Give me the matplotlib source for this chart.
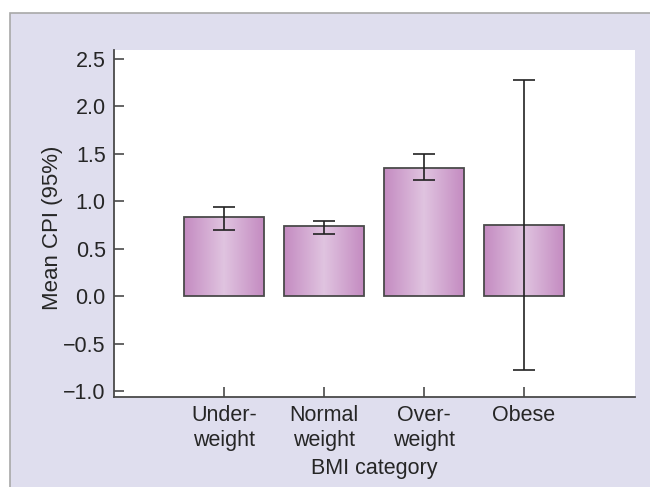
import numpy as np
import matplotlib
matplotlib.use("Agg")
import matplotlib.pyplot as plt
from matplotlib.patches import Rectangle
from matplotlib.colors import LinearSegmentedColormap

categories = ["Under-\nweight", "Normal\nweight", "Over-\nweight", "Obese"]
means = [0.83, 0.74, 1.35, 0.75]
ci_low = [0.70, 0.66, 1.22, -0.78]
ci_high = [0.94, 0.79, 1.50, 2.28]
yticks = [-1.0, -0.5, 0.0, 0.5, 1.0, 1.5, 2.0, 2.5]

plt.rcParams["font.family"] = ["Liberation Sans", "DejaVu Sans"]
text_color = "#262626"
axis_color = "#4a4a4a"
fsize = 15.5

fig = plt.figure(figsize=(6.5, 4.87), dpi=100, facecolor="white")
# lavender panel behind the chart
panel = Rectangle((10 / 650, -0.1), 1.2, 474 / 487 + 0.1, transform=fig.transFigure,
                  facecolor="#dfdeee", edgecolor="#a8a8a8", linewidth=1.2, zorder=-5)
fig.patches.append(panel)

ax = fig.add_axes([114 / 650, 90 / 487, 521 / 650, 347 / 487])
ax.set_facecolor("white")

x = np.arange(len(categories))
bars = ax.bar(x, means, width=0.8, color="none", edgecolor=axis_color, linewidth=1.3, zorder=3)

# horizontal gradient fill inside each bar
grad_cmap = LinearSegmentedColormap.from_list("bar", ["#c48bc1", "#e0c4e0", "#c48bc1"])
grad = np.linspace(0, 1, 256).reshape(1, -1)
for b in bars:
    x0, w, h = b.get_x(), b.get_width(), b.get_height()
    im = ax.imshow(grad, cmap=grad_cmap, aspect="auto", extent=[x0, x0 + w, 0, h], zorder=2)
    im.set_clip_path(b)

yerr = [np.array(means) - np.array(ci_low), np.array(ci_high) - np.array(means)]
ax.errorbar(x, means, yerr=yerr, fmt="none", ecolor="#222222", elinewidth=1.2,
            capsize=8, capthick=1.2, zorder=4)

ax.set_xlim(-1.1, 4.11)
ax.set_ylim(-1.063, 2.595)
ax.set_yticks(yticks)
ax.set_yticklabels([f"{v:.1f}".replace("-", "\u2212") for v in yticks])
ax.set_xticks(x)
ax.set_xticklabels(categories, linespacing=1.25)

for s in ["top", "right"]:
    ax.spines[s].set_visible(False)
for s in ["left", "bottom"]:
    ax.spines[s].set_color(axis_color)
    ax.spines[s].set_linewidth(1.3)

ax.tick_params(direction="in", length=7, width=1.2, color=axis_color,
               labelsize=fsize, labelcolor=text_color, pad=6)
ax.set_ylabel("Mean CPI (95%)", fontsize=16, color=text_color)
ax.yaxis.set_label_coords(-0.098, 0.487)
ax.set_xlabel("BMI category", fontsize=fsize, color=text_color, labelpad=5)

fig.savefig("out.png", dpi=100, facecolor=fig.get_facecolor())
